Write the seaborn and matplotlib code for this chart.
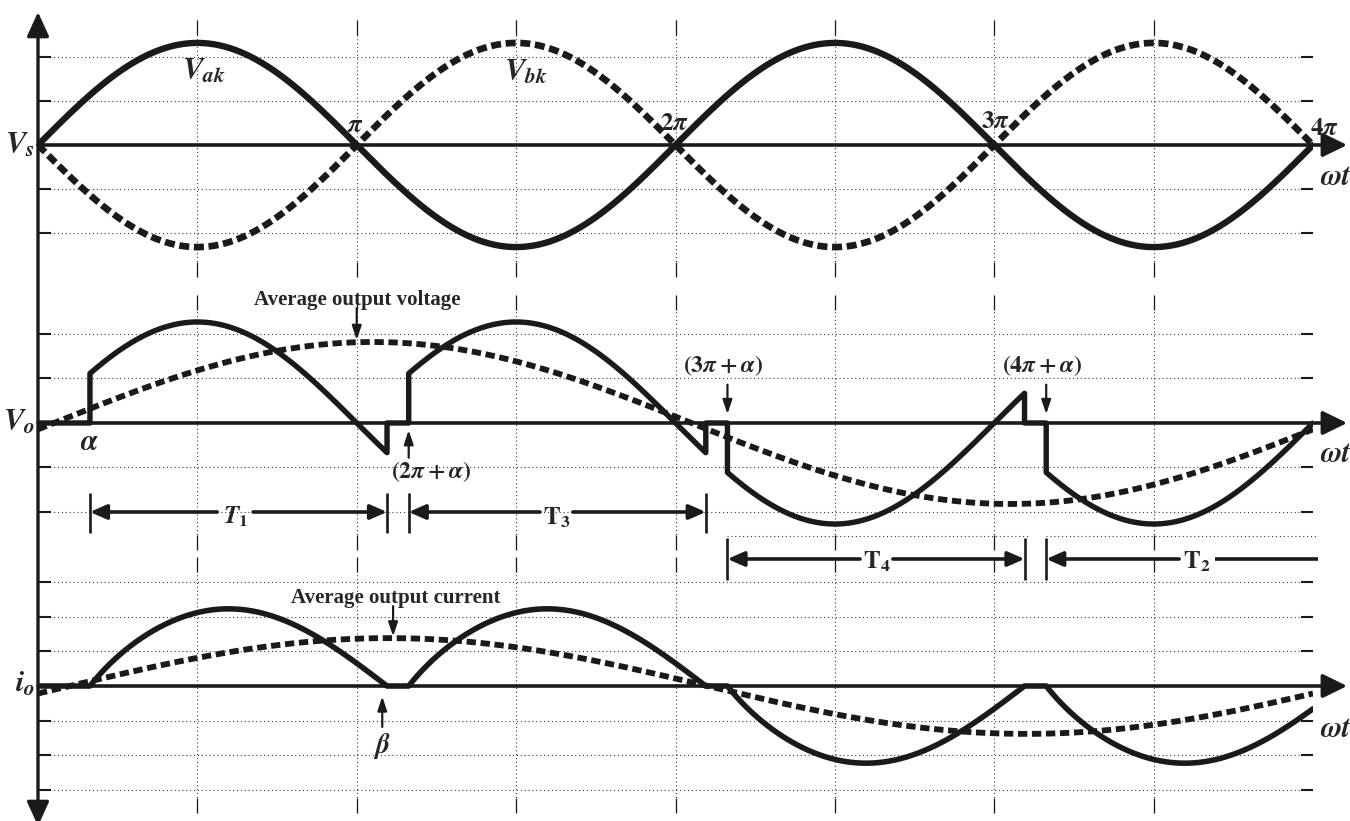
import numpy as np
import matplotlib
matplotlib.use("Agg")
import matplotlib.pyplot as plt
import seaborn as sns

# ---------------------------------------------------------------- data
# angles are given in units of pi
half_cycles = [0, 1, 2, 3]            # supply half-cycles covered by one output cycle
output_polarity = [1, 1, -1, -1]      # sign of the output during each half-cycle
firing_angle = 0.163                  # alpha
load_angle = 0.095                    # phi: current dies out at pi + phi
supply_peak = 2.32                    # V_ak / V_bk amplitude (grid units)
output_peak = 2.27                    # V_o amplitude (grid units)
current_peak = 2.23                   # i_o amplitude (grid units)
avg_voltage = [1.82, 0.05]            # peak, phase lag of the mean output voltage
avg_current = [1.38, 0.10]            # peak, phase lag of the mean output current
supply_marks = ["\\pi", "2\\pi", "3\\pi", "4\\pi"]
firing_marks = ["(2\\pi+\\alpha)", "(3\\pi+\\alpha)", "(4\\pi+\\alpha)"]
interval_names = ["$T_1$", "$\\mathrm{T}_3$", "$\\mathrm{T}_4$", "$\\mathrm{T}_2$"]

# ---------------------------------------------------------------- waveforms
t = np.linspace(0, 4, 2001)
v_ak = supply_peak * np.sin(np.pi * t)
v_bk = -v_ak

a_rad = np.pi * firing_angle
p_rad = np.pi * load_angle
ts, vo, io = [], [], []
t_prev = 0.0
for k, sgn in zip(half_cycles, output_polarity):
    t_on = k + firing_angle
    t_off = min(k + 1 + load_angle, 4.0)
    ts += [t_prev, t_on]
    vo += [0.0, 0.0]
    io += [0.0, 0.0]
    u = np.linspace(firing_angle, t_off - k, 400)
    v = sgn * output_peak * np.sin(np.pi * u)
    cur = np.sin(np.pi * u - p_rad) - np.sin(a_rad - p_rad) * np.exp(
        -(np.pi * u - a_rad) / np.tan(p_rad))
    cur = sgn * current_peak * np.clip(cur, 0, None)
    ts += list(k + u)
    vo += list(v)
    io += list(cur)
    if t_off < 4.0:
        ts.append(t_off)
        vo.append(0.0)
        io.append(0.0)
    t_prev = t_off
ts, vo, io = np.array(ts), np.array(vo), np.array(io)


def v_mean(x):
    return avg_voltage[0] * np.sin(np.pi * (x - avg_voltage[1]) / 2)


def i_mean(x):
    return avg_current[0] * np.sin(np.pi * (x - avg_current[1]) / 2)


# ---------------------------------------------------------------- figure
sns.set_theme(style="white")
plt.rcParams["mathtext.fontset"] = "custom"
plt.rcParams["mathtext.it"] = "STIXGeneral:italic:bold"
plt.rcParams["mathtext.rm"] = "STIXGeneral:bold"
plt.rcParams["mathtext.bf"] = "STIXGeneral:bold"
plt.rcParams["mathtext.sf"] = "STIXGeneral:bold"
plt.rcParams["mathtext.fallback"] = "stix"
plt.rcParams["font.family"] = ["STIXGeneral", "DejaVu Serif"]

W, H = 1350, 821
X0, X1 = 38, 1313
fig = plt.figure(figsize=(W / 100, H / 100), dpi=100)
fig.patch.set_facecolor("white")


def make_panel(top, bottom, ylo, yhi, yticks):
    ax = fig.add_axes([X0 / W, 1 - bottom / H, (X1 - X0) / W, (bottom - top) / H])
    ax.set_facecolor("none")
    ax.set_xlim(0, 4)
    ax.set_ylim(ylo, yhi)
    for s in ax.spines.values():
        s.set_visible(False)
    ax.set_xticks(np.arange(0.5, 4, 0.5))
    ax.set_yticks(yticks)
    ax.tick_params(axis="x", direction="in", length=10.5, width=0.9, color="k",
                   top=True, bottom=True, labelbottom=False, labeltop=False)
    ax.tick_params(axis="y", direction="in", length=9.0, width=1.5, color="k",
                   left=True, right=True, labelleft=False, labelright=False)
    ax.grid(True, linestyle=(0, (1, 2.5)), linewidth=0.8, color="#3a3a3a")
    ax.set_axisbelow(True)
    ax.set_xlabel("")
    ax.set_ylabel("")
    # horizontal time axis with arrow
    ax.annotate("", xy=(4.107, 0), xytext=(0, 0), annotation_clip=False,
                arrowprops=dict(arrowstyle="-|>,head_length=0.55,head_width=0.27",
                                lw=2.6, color="k", shrinkA=0, shrinkB=0,
                                mutation_scale=27, clip_on=False),
                zorder=2)
    return ax


ax_s = make_panel(20, 277, -3.0, 2.841, [-2, -1, 1, 2])
ax_o = make_panel(295, 550, -2.854, 2.876, [-2, -1, 1, 2])
ax_i = make_panel(557, 813, -3.66, 3.718, [-3, -2, -1, 1, 2, 3])

# vertical axis shared by all panels
ov = fig.add_axes([0, 0, 1, 1])
ov.set_xlim(0, W)
ov.set_ylim(H, 0)
ov.axis("off")
ov.annotate("", xy=(X0, 12), xytext=(X0, 826), annotation_clip=False,
            arrowprops=dict(arrowstyle="<|-|>,head_length=0.55,head_width=0.25",
                            lw=2.4, color="k", shrinkA=0, shrinkB=0,
                            mutation_scale=27))

# ---------------------------------------------------------------- supply voltages
sns.lineplot(x=t, y=v_ak, ax=ax_s, color="k", lw=4.6, estimator=None, sort=False,
             legend=False, zorder=3)
sns.lineplot(x=t, y=v_bk, ax=ax_s, color="k", lw=4.8, estimator=None, sort=False,
             legend=False, linestyle=(0, (1.5, 0.7)), zorder=3)

ax_s.text(-0.01, -0.18, "$V_s$", ha="right", va="baseline", fontsize=22)
ax_s.text(0.452, 1.5, "$V_{ak}$", ha="left", va="baseline", fontsize=22)
ax_s.text(1.462, 1.477, "$V_{bk}$", ha="left", va="baseline", fontsize=22)
mark_pos = [(0.995, 0.295), (1.998, 0.34), (3.002, 0.386), (4.035, 0.227)]
for lab, (mx, my) in zip(supply_marks, mark_pos):
    ax_s.text(mx, my, f"${lab}$", ha="center", va="baseline", fontsize=18)
ax_s.text(4.022, -0.91, "$\\omega t$", ha="left", va="baseline", fontsize=21)

# ---------------------------------------------------------------- output voltage
sns.lineplot(x=ts, y=vo, ax=ax_o, color="k", lw=3.9, estimator=None, sort=False,
             legend=False, zorder=3)
sns.lineplot(x=t, y=v_mean(t), ax=ax_o, color="k", lw=4.2, estimator=None,
             sort=False, legend=False, linestyle=(0, (1.6, 0.8)), zorder=3)

ax_o.text(-0.01, -0.157, "$V_o$", ha="right", va="baseline", fontsize=22)
ax_o.text(0.16, -0.607, "$\\alpha$", ha="center", va="baseline", fontsize=21)
ax_o.text(4.022, -0.876, "$\\omega t$", ha="left", va="baseline", fontsize=21)

small_arrow = dict(arrowstyle="-|>,head_length=0.6,head_width=0.2", lw=1.6,
                   color="k", shrinkA=0, shrinkB=0, mutation_scale=14, clip_on=False)

ax_o.text(1.0, 2.65, "Average output voltage", ha="center", va="baseline",
          fontsize=15, fontweight="bold", family=["Liberation Serif", "DejaVu Serif"])
ax_o.annotate("", xy=(1.0, v_mean(1.0) + 0.05), xytext=(1.0, 2.58),
              arrowprops=small_arrow, annotation_clip=False)

# firing instants of the later half-cycles
ax_o.text(1.233, -1.236, f"${firing_marks[0]}$", ha="center", va="baseline", fontsize=17)
ax_o.annotate("", xy=(1 + firing_angle, -0.16), xytext=(1 + firing_angle, -0.78),
              arrowprops=small_arrow, annotation_clip=False)
for lab, k in zip(firing_marks[1:], [2, 3]):
    ax_o.text(k + firing_angle - 0.013, 1.146, f"${lab}$", ha="center", va="baseline",
              fontsize=17)
    ax_o.annotate("", xy=(k + firing_angle, 0.2), xytext=(k + firing_angle, 0.86),
                  arrowprops=small_arrow, annotation_clip=False)

# conduction intervals
bracket_arrow = dict(arrowstyle="-|>,head_length=0.5,head_width=0.22", lw=2.6,
                     color="k", shrinkA=0, shrinkB=0, mutation_scale=20, clip_on=False)
rows = [(-2.0, -1.573, -2.472, -2.26), (-2.0, -1.573, -2.472, -2.27),
        (-3.056, -2.584, -3.528, -3.26), (-3.056, -2.584, -3.528, -3.26)]
gaps = [(0.562, 0.675), (1.575, 1.678), (2.579, 2.682), (3.58, 3.693)]
for k, name, (ya, yb0, yb1, yl), (g0, g1) in zip(half_cycles, interval_names, rows, gaps):
    x_on = k + firing_angle
    x_off = k + 1 + load_angle
    ax_o.vlines(x_on, yb1, yb0, color="k", lw=1.9, clip_on=False)
    ax_o.annotate("", xy=(x_on, ya), xytext=(g0, ya), arrowprops=bracket_arrow,
                  annotation_clip=False)
    if x_off < 4:
        ax_o.vlines(x_off, yb1, yb0, color="k", lw=1.9, clip_on=False)
        ax_o.annotate("", xy=(x_off, ya), xytext=(g1, ya), arrowprops=bracket_arrow,
                      annotation_clip=False)
    else:
        ax_o.plot([g1, 4.016], [ya, ya], color="k", lw=2.6, clip_on=False,
                  solid_capstyle="butt")
    ax_o.text((g0 + g1) / 2, yl, name, ha="center", va="baseline", fontsize=18)

for x_a, x_b in [(2 + firing_angle, 3 + load_angle + 0.01), (3 + firing_angle, 4.013)]:
    ax_o.plot([x_a, x_b], [-2.54, -2.54], color="#3a3a3a", lw=0.8,
              linestyle=(0, (1, 2.5)), clip_on=False)

# ---------------------------------------------------------------- output current
sns.lineplot(x=ts, y=io, ax=ax_i, color="k", lw=4.0, estimator=None, sort=False,
             legend=False, zorder=3)
sns.lineplot(x=t, y=i_mean(t), ax=ax_i, color="k", lw=4.2, estimator=None,
             sort=False, legend=False, linestyle=(0, (1.6, 0.8)), zorder=3)

ax_i.text(-0.01, -0.17, "$i_o$", ha="right", va="baseline", fontsize=22)
ax_i.text(4.022, -1.47, "$\\omega t$", ha="left", va="baseline", fontsize=21)
ax_i.text(1.123, 2.39, "Average output current", ha="center", va="baseline",
          fontsize=15, fontweight="bold", family=["Liberation Serif", "DejaVu Serif"])
ax_i.annotate("", xy=(1.114, i_mean(1.114) + 0.05), xytext=(1.114, 2.3),
              arrowprops=small_arrow, annotation_clip=False)
ax_i.text(1.077, -1.93, "$\\beta$", ha="center", va="baseline", fontsize=20)
ax_i.annotate("", xy=(1.08, -0.3), xytext=(1.08, -1.18),
              arrowprops=small_arrow, annotation_clip=False)

fig.savefig("out.png", dpi=100, facecolor="white")
